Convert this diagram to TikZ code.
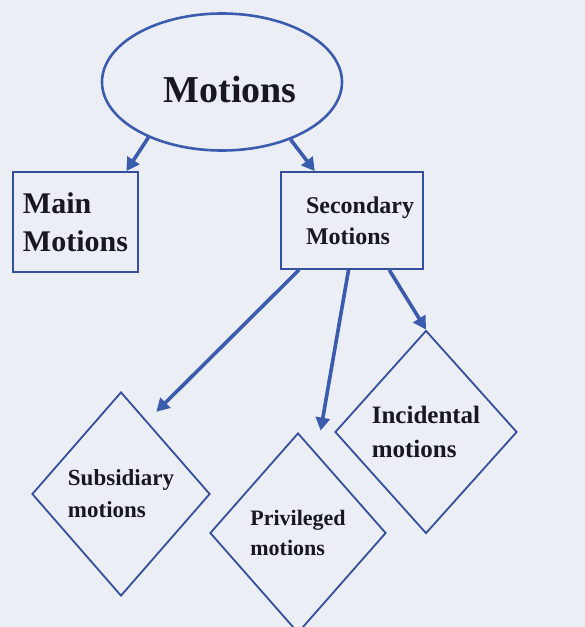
\documentclass[tikz,border=0pt]{standalone}
\usepackage{fontspec}
\setmainfont{Liberation Serif}
\usetikzlibrary{shapes.geometric,arrows.meta,positioning,calc}
\definecolor{motblue}{RGB}{59,92,174}
\definecolor{boxblue}{RGB}{52,80,156}
\definecolor{paper}{RGB}{236,238,246}
\definecolor{ink}{RGB}{24,24,30}

\begin{document}
\begin{tikzpicture}[x=1pt, y=-1pt,
    topnode/.style={ellipse, draw=motblue, line width=2.6pt, fill=paper,
        minimum width=240pt, minimum height=137pt},
    catbox/.style={rectangle, draw=boxblue, line width=1.8pt, fill=paper,
        inner sep=0pt, align=left, text=ink},
    kind/.style={diamond, draw=boxblue, line width=1.8pt, fill=paper,
        inner sep=0pt, align=left, text=ink},
    arr/.style={-{Triangle[length=13pt, width=14pt]}, line width=3.6pt, motblue}
]
    % page
    \fill[paper] (0,0) rectangle (585,627);
    \useasboundingbox (0,0) rectangle (585,627);

    % top level
    \node[topnode, label={[font=\bfseries\fontsize{38}{42}\selectfont, text=ink,
        xshift=8pt, yshift=-7pt]center:Motions}] (mot) at (222,82) {};

    % two kinds of motion
    \node[catbox, minimum width=125pt, minimum height=100pt,
        font=\bfseries\fontsize{30}{38}\selectfont] (main) at (75.5,222)
        {Main\\Motions};
    \node[catbox, minimum width=142pt, minimum height=97pt,
        label={[font=\bfseries\fontsize{24}{31}\selectfont, text=ink,
            align=left, xshift=8pt]center:Secondary\\Motions}] (sec) at (352,220.5) {};

    \draw[arr] (mot.217) -- (main.45);
    \draw[arr] (mot.320) -- (sec.127);

    % secondary motions
    \node[kind, minimum width=178pt, minimum height=204pt,
        font=\bfseries\fontsize{23}{32}\selectfont] (sub) at (121,494)
        {Subsidiary\\motions};
    \node[kind, minimum width=176pt, minimum height=200pt,
        font=\bfseries\fontsize{22}{30}\selectfont] (priv) at (298,533)
        {Privileged\\motions};
    \node[kind, minimum width=182pt, minimum height=203pt,
        font=\bfseries\fontsize{25}{34}\selectfont] (inc) at (426,432)
        {Incidental\\motions};

    \draw[arr, shorten >=13pt] (sec.223) -- ($(sub.north)!0.29!(sub.east)$);
    \draw[arr, shorten >=23pt] (sec.266) -- ($(priv.north)!0.21!(priv.east)$);
    \draw[arr] (sec.307) -- (inc.north);
\end{tikzpicture}
\end{document}
